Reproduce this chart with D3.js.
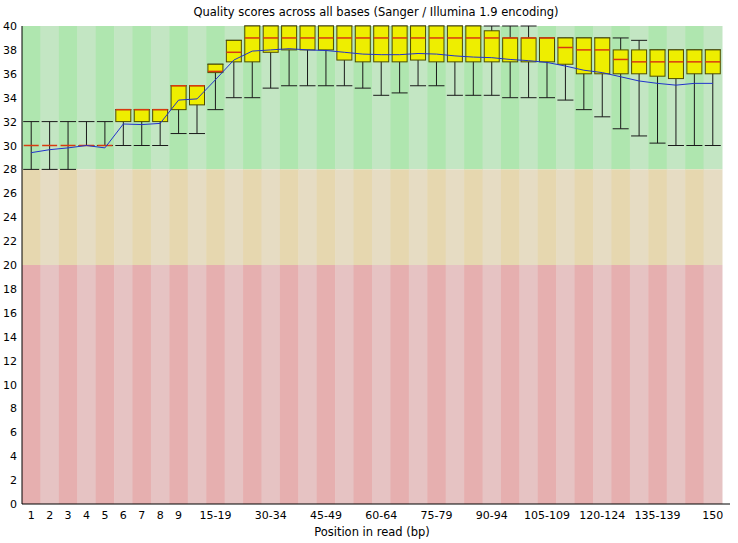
<!DOCTYPE html>
<html><head><meta charset="utf-8">
<script src="https://cdn.jsdelivr.net/npm/d3@7"></script>
<style>body{margin:0;background:#fff}svg{display:block;font-family:"DejaVu Sans",sans-serif}</style>
</head><body><svg id="c" width="738" height="543"></svg>
<script>
const categories = ["1","2","3","4","5","6","7","8","9","10-14","15-19","20-24","25-29","30-34","35-39","40-44","45-49","50-54","55-59","60-64","65-69","70-74","75-79","80-84","85-89","90-94","95-99","100-104","105-109","110-114","115-119","120-124","125-129","130-134","135-139","140-144","145-149","150"];
const medians = [30,30,30,30,30,33,33,33,35,35,36.2,37.8,39,39,39,39,39,39,39,39,39,39,39,39,39,39,39,39,39,38.2,38,38,37.2,37,37,37,37,37];
const q1 = [30,30,30,30,30,32,32,32,33,33.4,36.1,37,37,37.8,38,38,38,37.15,37,37,37,37.15,37,37,37,37,37,37,37,36.8,36,36,36,36,35.8,35.6,36,36];
const q3 = [30,30,30,30,30,33,33,33,35,35,36.8,38.8,40,40,40,40,40,40,40,40,40,40,40,40,40,39.6,39,39,39,39,39,39,38,38,38,38,38,38];
const p10 = [28,28,28,30,30,30,30,30,31,31,33,34,34,34.8,35,35,35,35,34.8,34.2,34.4,35,35,34.2,34.2,34.2,34,34,34,33.8,33,32.4,31.4,30.8,30.2,30,30,30];
const p90 = [32,32,32,32,32,33,33,33,35,35,36.8,38.8,40,40,40,40,40,40,40,40,40,40,40,40,40,40,40,40,39,39,39,39,39,38.8,38,38,38,38];
const means = [29.4,29.65,29.8,30.0,29.8,31.8,31.75,31.85,33.8,33.9,35.5,37.15,37.9,38.0,38.1,38.0,37.95,37.8,37.65,37.6,37.6,37.7,37.65,37.5,37.4,37.35,37.2,37.1,36.95,36.65,36.3,36.1,35.75,35.4,35.2,35.05,35.2,35.2];
const yTicks = d3.range(0, 41, 2);
const xTickLabels = ["1","2","3","4","5","6","7","8","9","15-19","30-34","45-49","60-64","75-79","90-94","105-109","120-124","135-139","150"];
const zones = [{lo:28,hi:40,c:["#afe6af","#c3e6c3"]},{lo:20,hi:28,c:["#e6d7af","#e6dcc3"]},{lo:0,hi:20,c:["#e6afaf","#e6c3c3"]}];

const svg = d3.select("#c");
const L=22, R=722, T=26, B=504;
const x = d3.scaleBand().domain(categories).range([L,R]).padding(0);
const y = d3.scaleLinear().domain([0,40]).range([B,T]);
const bw = x.bandwidth();

zones.forEach(z=>{
  svg.append("g").selectAll("rect").data(categories).join("rect")
    .attr("x",d=>x(d)).attr("width",bw+0.5)
    .attr("y",y(z.hi)).attr("height",y(z.lo)-y(z.hi))
    .attr("fill",(d,i)=>z.c[i%2]);
});

const data = categories.map((c,i)=>({c,med:medians[i],q1:q1[i],q3:q3[i],lo:p10[i],hi:p90[i],mean:means[i]}));
const g = svg.append("g");
const boxW = 15, capW = 16;
data.forEach(d=>{
  const cx = x(d.c)+bw/2;
  g.append("line").attr("x1",cx).attr("x2",cx).attr("y1",y(d.hi)).attr("y2",y(d.lo)).attr("stroke","#1a1a1a").attr("stroke-width",1);
  g.append("line").attr("x1",cx-capW/2).attr("x2",cx+capW/2).attr("y1",y(d.hi)).attr("y2",y(d.hi)).attr("stroke","#1a1a1a");
  g.append("line").attr("x1",cx-capW/2).attr("x2",cx+capW/2).attr("y1",y(d.lo)).attr("y2",y(d.lo)).attr("stroke","#1a1a1a");
  if (d.q3 > d.q1) {
    g.append("rect").attr("x",cx-boxW/2).attr("width",boxW).attr("y",y(d.q3)).attr("height",y(d.q1)-y(d.q3))
      .attr("fill","#eeee00").attr("stroke","#4d4d00").attr("stroke-width",1);
  }
  g.append("line").attr("x1",cx-boxW/2).attr("x2",cx+boxW/2).attr("y1",y(d.med)).attr("y2",y(d.med))
    .attr("stroke","#d83a10").attr("stroke-width",1.5);
});

svg.append("path").datum(data)
  .attr("d", d3.line().x(d=>x(d.c)+bw/2).y(d=>y(d.mean)))
  .attr("fill","none").attr("stroke","#2233cc").attr("stroke-width",1);

const yAxis = d3.axisLeft(y).tickValues(yTicks).tickSize(0).tickPadding(5).tickFormat(d3.format("d"));
const ya = svg.append("g").attr("transform",`translate(${L},0)`).call(yAxis);
ya.select(".domain").remove();
ya.selectAll("text").attr("font-size",11).attr("font-family","DejaVu Sans").attr("fill","#000");

const xAxis = d3.axisBottom(x).tickValues(xTickLabels).tickSize(0).tickPadding(7);
const xa = svg.append("g").attr("transform",`translate(0,${B})`).call(xAxis);
xa.select(".domain").remove();
xa.selectAll("text").attr("font-size",11).attr("font-family","DejaVu Sans").attr("fill","#000");

svg.append("line").attr("x1",L).attr("x2",L).attr("y1",T).attr("y2",B).attr("stroke","#000");
svg.append("line").attr("x1",L).attr("x2",730).attr("y1",B).attr("y2",B).attr("stroke","#000");

svg.append("text").attr("x",376).attr("y",16).attr("text-anchor","middle").attr("font-size",11.5).text("Quality scores across all bases (Sanger / Illumina 1.9 encoding)");
svg.append("text").attr("x",372).attr("y",536).attr("text-anchor","middle").attr("font-size",11.5).text("Position in read (bp)");
</script></body></html>
